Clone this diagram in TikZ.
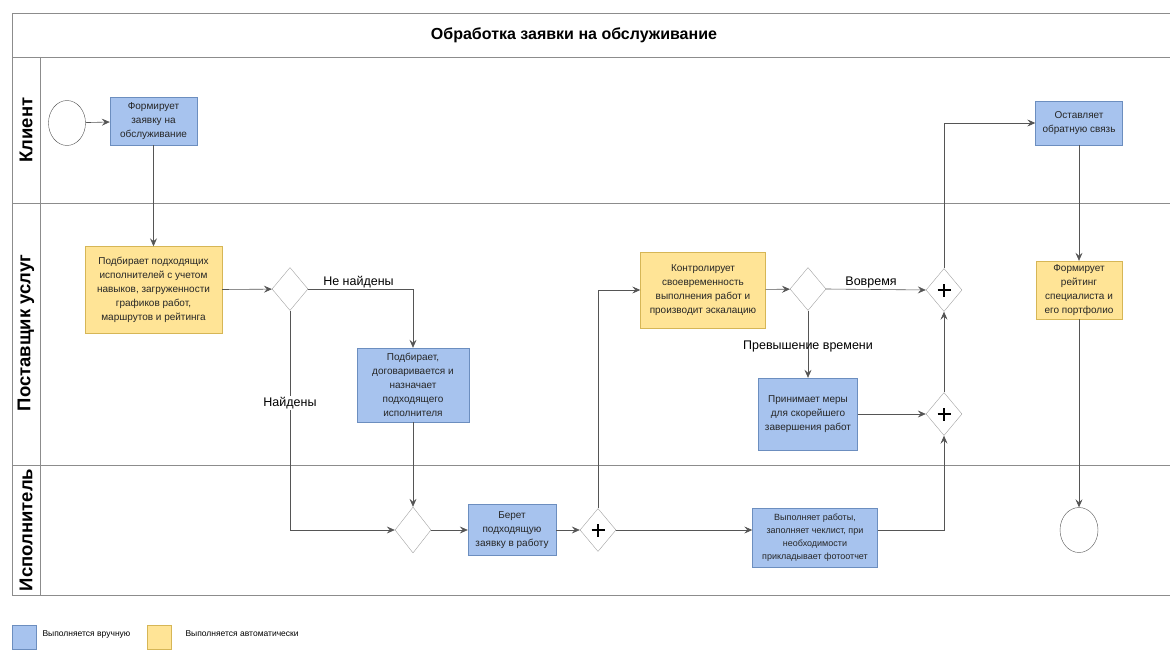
\documentclass[tikz,border=0pt]{standalone}
\usepackage{fontspec}
\setmainfont{Liberation Sans}
\usepackage{xcolor}
\usepackage{tikz}
\usetikzlibrary{shapes.geometric,arrows.meta}

\definecolor{manual}{HTML}{A7C3EE}
\definecolor{manualline}{HTML}{6C8EBF}
\definecolor{auto}{HTML}{FFE496}
\definecolor{autoline}{HTML}{D6B656}
\definecolor{lane}{HTML}{8C8C8C}
\definecolor{wire}{HTML}{555555}

\begin{document}
\begin{tikzpicture}[x=1pt,y=-1pt,
    >={Stealth[length=8pt,width=7pt,inset=3pt]},
    flow/.style={draw=wire,line width=0.6pt,->},
    task/.style={draw=manualline,fill=manual,align=center,inner sep=1pt,
      text=black!85,font=\fontsize{10}{14}\selectfont},
    autotask/.style={task,draw=autoline,fill=auto},
    gateway/.style={diamond,draw=lane!80,fill=white,inner sep=0pt,
      minimum width=36pt,minimum height=43pt},
    parallel/.style={gateway,path picture={
        \draw[black,line width=2.8pt] ([xshift=-6.5pt]path picture bounding box.center)
          -- ([xshift=6.5pt]path picture bounding box.center);
        \draw[black,line width=2.8pt] ([yshift=-6.5pt]path picture bounding box.center)
          -- ([yshift=6.5pt]path picture bounding box.center);}},
    event/.style={ellipse,draw=wire,fill=white,inner sep=0pt,
      minimum width=37pt,minimum height=45pt},
    lanename/.style={rotate=90,font=\fontsize{18.5}{18.5}\selectfont\bfseries},
    edgelabel/.style={font=\fontsize{12.5}{12.5}\selectfont,inner sep=1pt}]
    \useasboundingbox (0,0) rectangle (1170,650);

    % pool and lanes
    \draw[lane,line width=0.7pt] (1170,13) -- (12,13) -- (12,595) -- (1170,595);
    \foreach \y in {57,203,465}
    \draw[lane,line width=0.7pt] (12,\y) -- (1170,\y);
    \draw[lane,line width=0.7pt] (40,57) -- (40,595);
    \node[font=\fontsize{16}{16}\selectfont\bfseries] (title) at (574,35) {Обработка заявки на обслуживание};
    \node[lanename] (client) at (26,130) {Клиент};
    \node[lanename] (provider) at (26,333) {Поставщик услуг};
    \node[lanename] (worker) at (26,530) {Исполнитель};

    % nodes
    \node[event] (start) at (67,123) {};
    \node[task,minimum width=87pt,minimum height=48pt] (t1) at (153.5,121) {Формирует\\заявку на\\обслуживание};
    \node[autotask,minimum width=137pt,minimum height=87pt] (t2) at (153.5,290) {Подбирает подходящих\\исполнителей с учетом\\навыков, загруженности\\графиков работ,\\маршрутов и рейтинга};
    \node[gateway] (g1) at (290,289) {};
    \node[task,minimum width=112pt,minimum height=74pt] (t3) at (413,385) {Подбирает,\\договаривается и\\назначает\\подходящего\\исполнителя};
    \node[gateway,minimum height=46pt] (g2) at (413,530) {};
    \node[task,minimum width=88pt,minimum height=51pt] (t4) at (512,530) {Берет\\подходящую\\заявку в работу};
    \node[parallel] (p1) at (598,530) {};
    \node[autotask,minimum width=125pt,minimum height=76pt] (t5) at (703,290) {Контролирует\\своевременность\\выполнения работ и\\производит эскалацию};
    \node[gateway] (g3) at (808,289) {};
    \node[task,minimum width=99pt,minimum height=72pt] (t6) at (808,414) {Принимает меры\\для скорейшего\\завершения работ};
    \node[parallel] (p2) at (944,290) {};
    \node[parallel] (p3) at (944,414) {};
    \node[task,minimum width=125pt,minimum height=59pt,font=\fontsize{9}{13}\selectfont] (t7) at (815,537.5) {Выполняет работы,\\заполняет чеклист, при\\необходимости\\прикладывает фотоотчет};
    \node[task,minimum width=87pt,minimum height=44pt] (t8) at (1079,123) {Оставляет\\обратную связь};
    \node[autotask,minimum width=86pt,minimum height=58pt] (t9) at (1079,290) {Формирует\\рейтинг\\специалиста и\\его портфолио};
    \node[event,minimum width=38pt] (end) at (1079,530) {};

    % flows
    \draw[flow] (start) -- (t1);
    \draw[flow] (t1) -- (t2);
    \draw[flow] (t2) -- (g1);
    \draw[flow] (g1.east) -| node[edgelabel,pos=0.24,above] {Не найдены} (t3.north);
    \draw[flow] (g1.south) |- node[edgelabel,pos=0.21,fill=white] {Найдены} (g2.west);
    \draw[flow] (t3) -- (g2);
    \draw[flow] (g2) -- (t4);
    \draw[flow] (t4) -- (p1);
    \draw[flow] (p1.north) |- (t5.west);
    \draw[flow] (p1.east) -- (p1.east -| t7.west);
    \draw[flow] (t5) -- (g3);
    \draw[flow] (g3.east) -- node[edgelabel,pos=0.45,above] {Вовремя} (p2.west);
    \draw[flow] (g3.south) -- node[edgelabel,pos=0.54] {Превышение времени} (t6.north);
    \draw[flow] (t6) -- (p3);
    \draw[flow] (t7.east |- p1.east) -| (p3.south);
    \draw[flow] (p3) -- (p2);
    \draw[flow] (p2.north) |- (t8.west);
    \draw[flow] (t8) -- (t9);
    \draw[flow] (t9) -- (end);

    % legend
    \node[draw=manualline,fill=manual,minimum size=24pt,inner sep=0pt] (keymanual) at (24,637) {};
    \node[anchor=west,font=\fontsize{8.5}{8.5}\selectfont] (keymanualtext) at (39,634) {Выполняется вручную};
    \node[draw=autoline,fill=auto,minimum size=24pt,inner sep=0pt] (keyauto) at (159,637) {};
    \node[anchor=west,font=\fontsize{8.5}{8.5}\selectfont] (keyautotext) at (182,634) {Выполняется автоматически};
\end{tikzpicture}
\end{document}
